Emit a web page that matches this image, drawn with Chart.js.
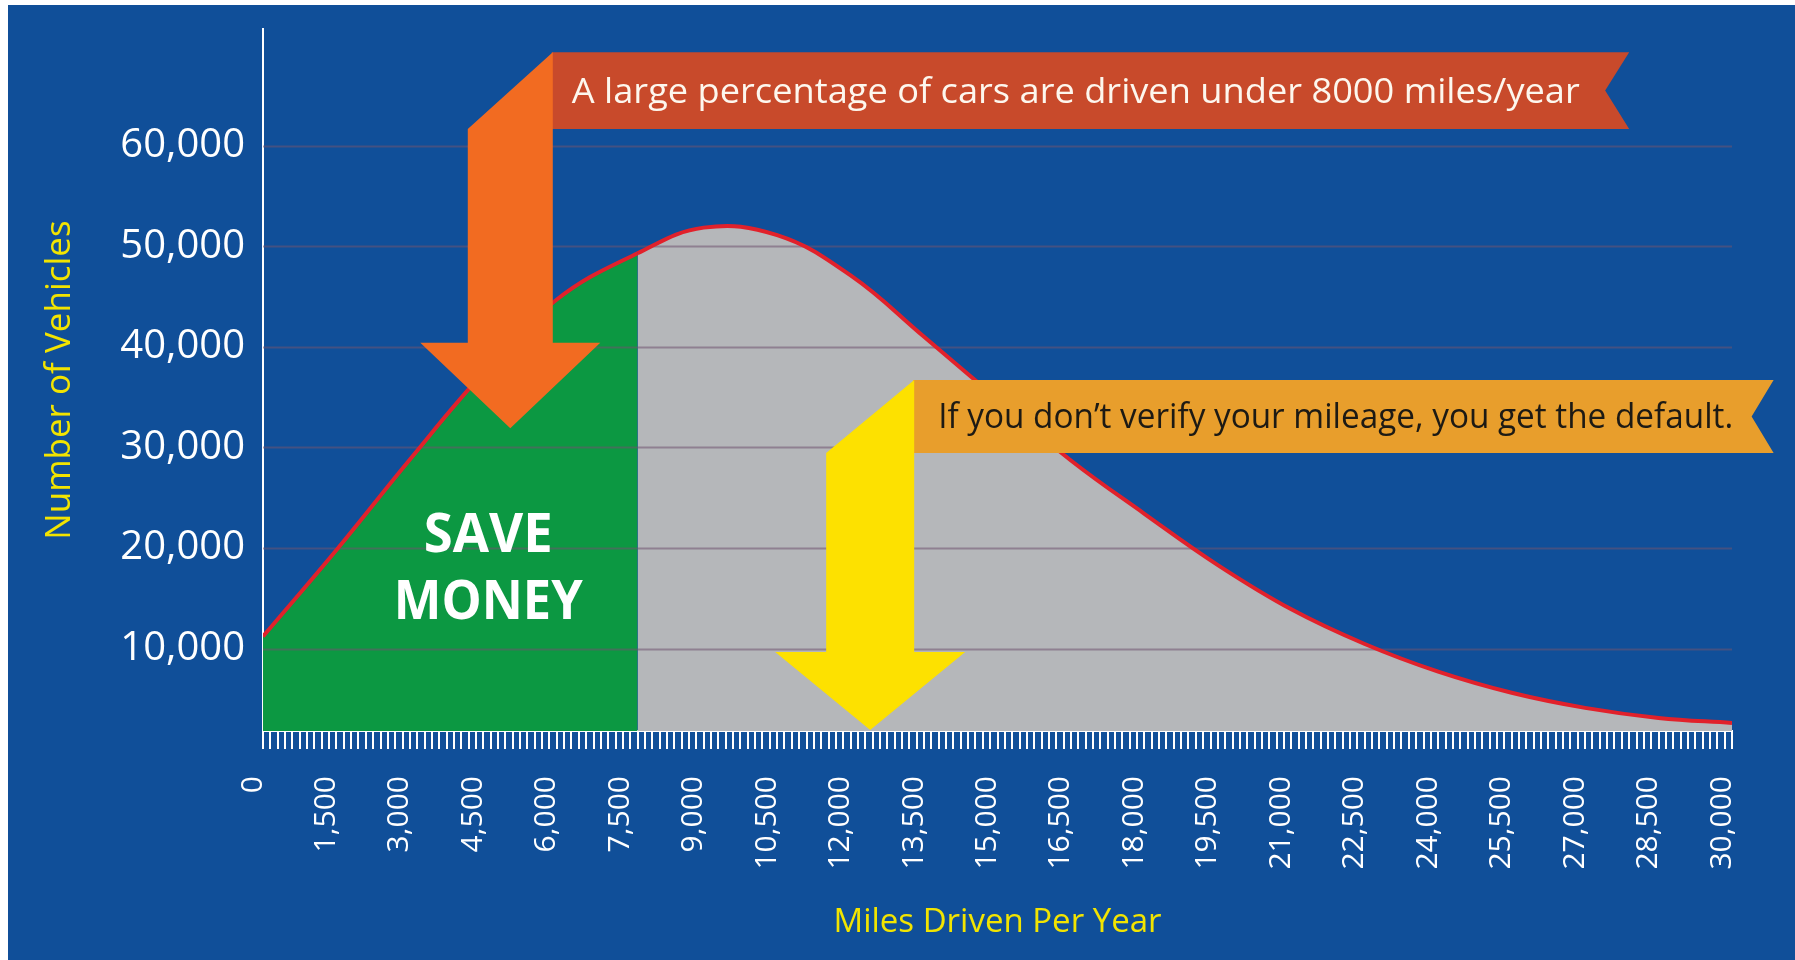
<!DOCTYPE html>
<html>
<head>
<meta charset="utf-8">
<script src="https://cdn.jsdelivr.net/npm/chart.js@4.4.1/dist/chart.umd.min.js"></script>
<style>
  html, body { margin: 0; padding: 0; background: #ffffff; }
  canvas { display: block; }
</style>
</head>
<body>
<canvas id="chart" width="1795" height="960"></canvas>
<script>
// ---------- data ----------
const milesDriven   = [0, 1500, 3000, 4500, 6000, 7650, 9000, 10500, 12000, 13500, 15000,
                       16500, 18000, 19500, 21000, 22500, 24000, 25500, 27000, 28500, 30000];
const vehicleCounts = [11200, 19800, 28800, 37400, 44700, 49300, 51850, 51100, 47100, 41000, 34800,
                       28700, 23400, 18300, 13900, 10450, 7700, 5600, 4100, 3100, 2600];
const saveMoneyLimit = 7650;   // green "save money" zone ends here (miles)

const xTickValues = [0, 1500, 3000, 4500, 6000, 7500, 9000, 10500, 12000, 13500, 15000,
                     16500, 18000, 19500, 21000, 22500, 24000, 25500, 27000, 28500, 30000];
const xTickLabels = ['0', '1,500', '3,000', '4,500', '6,000', '7,500', '9,000', '10,500', '12,000',
                     '13,500', '15,000', '16,500', '18,000', '19,500', '21,000', '22,500', '24,000',
                     '25,500', '27,000', '28,500', '30,000'];
const xRulerStep = 150;
const yTickValues = [10000, 20000, 30000, 40000, 50000, 60000];
const yTickLabels = ['10,000', '20,000', '30,000', '40,000', '50,000', '60,000'];

const xAxisTitle = 'Miles Driven Per Year';
const yAxisTitle = 'Number of Vehicles';
const saveMoneyLines = ['SAVE', 'MONEY'];
const callout1Text = 'A large percentage of cars are driven under 8000 miles/year';
const callout2Text = 'If you don\u2019t verify your mileage, you get the default.';

// ---------- colours ----------
const BLUE = '#104f99';
const GREEN = '#0c9842';
const GREY = '#b5b7ba';
const RED = '#e1212b';
const YELLOW_TEXT = '#f2e400';
const FONT = '"Open Sans", sans-serif';

// callouts anchored in data space (miles, vehicles)
const callouts = [
  { x: 5050, tip: 31900, headBase: 40400, bannerTop: 69300, bannerBottom: 61650, bannerRight: 27900,
    shaftHalf: 42.5, headHalf: 90, notch: 24, arrowColor: '#f26b21', bannerColor: '#c84a2b',
    text: callout1Text, textColor: '#fdf7ee', textPad: 19, textWidth: 1008, textSize: 34 },
  { x: 12400, tip: 1900, headBase: 9650, bannerTop: 36700, bannerBottom: 29440, bannerRight: 30850,
    shaftHalf: 44, headHalf: 95, notch: 22, arrowColor: '#fde100', bannerColor: '#e89e2c',
    text: callout2Text, textColor: '#1d1a14', textPad: 24, textWidth: 795, textSize: 34 }
];
const saveMoney = { x: 4600, lines: [ { y: 19600, width: 129 }, { y: 12950, width: 189 } ], size: 54 };

function fitText(ctx, text, x, y, font, targetWidth, align) {
  ctx.save();
  ctx.font = font;
  const w = ctx.measureText(text).width;
  const sx = targetWidth / w;
  ctx.translate(x, y);
  ctx.scale(sx, 1);
  ctx.textBaseline = 'alphabetic';
  ctx.textAlign = align || 'left';
  ctx.fillText(text, 0, 0);
  ctx.restore();
}

const decorPlugin = {
  id: 'decor',
  beforeDraw(chart) {
    const ctx = chart.ctx;
    ctx.save();
    ctx.fillStyle = '#ffffff';
    ctx.fillRect(0, 0, chart.width, chart.height);
    ctx.fillStyle = BLUE;
    ctx.fillRect(8, 5, chart.width - 8, chart.height - 5);
    ctx.restore();
  },
  beforeDatasetsDraw(chart) {
    // horizontal grid lines drawn over the area fill, under the curve
    const {ctx, chartArea, scales} = chart;
    ctx.save();
    ctx.strokeStyle = 'rgba(112, 84, 112, 0.55)';
    ctx.lineWidth = 2;
    yTickValues.forEach(v => {
      const y = Math.round(scales.y.getPixelForValue(v)) + 0.5;
      ctx.beginPath();
      ctx.moveTo(chartArea.left, y);
      ctx.lineTo(chartArea.right, y);
      ctx.stroke();
    });
    ctx.restore();
  },
  afterDatasetsDraw(chart) {
    const {ctx, scales} = chart;
    const xs = scales.x, ys = scales.y;
    // SAVE MONEY
    ctx.save();
    ctx.fillStyle = '#ffffff';
    const smx = xs.getPixelForValue(saveMoney.x);
    saveMoney.lines.forEach((ln, i) => {
      fitText(ctx, saveMoneyLines[i], smx, ys.getPixelForValue(ln.y),
              `bold ${saveMoney.size}px ${FONT}`, ln.width, 'center');
    });
    ctx.restore();

    callouts.forEach(a => {
      const cx = xs.getPixelForValue(a.x);
      const tipY = ys.getPixelForValue(a.tip);
      const baseY = ys.getPixelForValue(a.headBase);
      const topY = ys.getPixelForValue(a.bannerTop);
      const botY = ys.getPixelForValue(a.bannerBottom);
      const rightX = xs.getPixelForValue(a.bannerRight);
      const L = cx - a.shaftHalf, R = cx + a.shaftHalf;
      ctx.save();
      // banner
      ctx.fillStyle = a.bannerColor;
      ctx.beginPath();
      ctx.moveTo(R - 1, topY);
      ctx.lineTo(rightX, topY);
      ctx.lineTo(rightX - a.notch, (topY + botY) / 2);
      ctx.lineTo(rightX, botY);
      ctx.lineTo(R - 1, botY);
      ctx.closePath();
      ctx.fill();
      // arrow
      ctx.fillStyle = a.arrowColor;
      ctx.beginPath();
      ctx.moveTo(R, topY);
      ctx.lineTo(R, baseY);
      ctx.lineTo(cx + a.headHalf, baseY);
      ctx.lineTo(cx, tipY);
      ctx.lineTo(cx - a.headHalf, baseY);
      ctx.lineTo(L, baseY);
      ctx.lineTo(L, botY);
      ctx.closePath();
      ctx.fill();
      // text
      ctx.fillStyle = a.textColor;
      const midY = (topY + botY) / 2;
      fitText(ctx, a.text, R + a.textPad, midY + a.textSize * 0.35,
              `${a.textSize}px ${FONT}`, a.textWidth, 'left');
      ctx.restore();
    });
  }
};

const points = milesDriven.map((m, i) => ({ x: m, y: vehicleCounts[i] }));

new Chart(document.getElementById('chart'), {
  type: 'line',
  data: {
    datasets: [{
      label: 'Vehicles',
      data: points,
      borderColor: RED,
      borderWidth: 4,
      pointRadius: 0,
      tension: 0.4,
      fill: 'origin',
      backgroundColor: GREY,
      segment: {
        backgroundColor: c => (c.p1.parsed.x <= saveMoneyLimit ? GREEN : undefined)
      }
    }]
  },
  options: {
    responsive: false,
    animation: false,
    devicePixelRatio: 1,
    layout: { padding: { top: 29, right: 60, left: 0, bottom: 0 } },
    plugins: {
      legend: { display: false },
      tooltip: { enabled: false },
      filler: { drawTime: 'beforeDatasetsDraw' }
    },
    scales: {
      x: {
        type: 'linear',
        min: 0,
        max: 30000,
        afterBuildTicks: s => {
          const t = [];
          for (let v = 0; v <= 30000; v += xRulerStep) t.push({ value: v });
          s.ticks = t;
        },
        afterFit: s => { s.height = 229; },
        grid: { display: true, drawOnChartArea: false, drawTicks: true, tickLength: 18,
                color: '#ffffff', lineWidth: 2 },
        border: { display: true, color: '#ffffff', width: 2 },
        ticks: {
          autoSkip: false,
          minRotation: 90,
          maxRotation: 90,
          padding: 27,
          labelOffset: -10,
          color: '#ffffff',
          font: { family: 'Open Sans', size: 30 },
          callback: v => { const i = xTickValues.indexOf(v); return i >= 0 ? xTickLabels[i] : ''; }
        },
        title: {
          display: true,
          text: xAxisTitle,
          color: YELLOW_TEXT,
          font: { family: 'Open Sans', size: 33 },
          padding: { top: 0, bottom: 18 }
        }
      },
      y: {
        type: 'linear',
        min: 1800,
        max: 71600,
        afterBuildTicks: s => { s.ticks = yTickValues.map(v => ({ value: v })); },
        afterFit: s => { s.width = 263; },
        grid: { display: true, drawOnChartArea: false, drawTicks: false, color: 'rgba(0,0,0,0)' },
        border: { display: true, color: '#ffffff', width: 2 },
        ticks: {
          padding: 18,
          color: '#ffffff',
          font: { family: 'Open Sans', size: 40, lineHeight: 0.5 },
          callback: v => { const i = yTickValues.indexOf(v); return i >= 0 ? yTickLabels[i] : ''; }
        },
        title: {
          display: true,
          text: yAxisTitle,
          color: YELLOW_TEXT,
          font: { family: 'Open Sans', size: 35 },
          padding: { top: 39, bottom: 0 }
        }
      }
    }
  },
  plugins: [decorPlugin]
});
</script>
</body>
</html>
